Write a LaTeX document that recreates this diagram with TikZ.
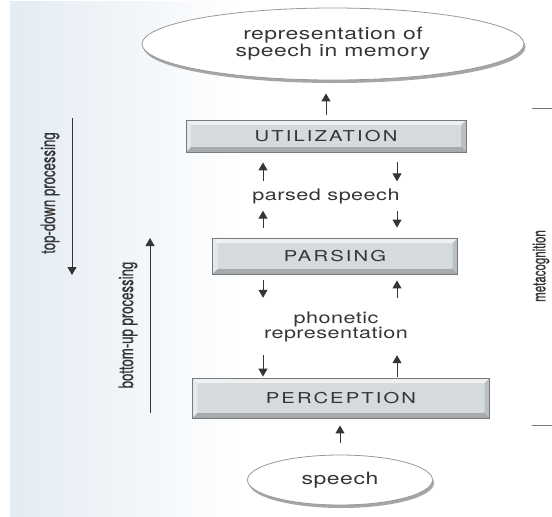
\documentclass[tikz,border=0pt]{standalone}
\usepackage{fontspec}
\setmainfont{TeX Gyre Heros}
\newfontfamily\labelfont[FakeStretch=1.35,LetterSpace=3]{TeX Gyre Heros}
\newfontfamily\stagefont[FakeStretch=1.35,LetterSpace=14]{TeX Gyre Heros}
\newfontfamily\sidefont[FakeStretch=0.66,FakeBold=0.6]{TeX Gyre Heros}
\newfontfamily\metafont[FakeStretch=0.64,FakeBold=0.6]{TeX Gyre Heros}
\usetikzlibrary{arrows.meta,shapes.geometric,shadows,fadings,positioning}

\definecolor{ink}{HTML}{353535}
\definecolor{boxfill}{HTML}{D5DADC}
\definecolor{boxline}{HTML}{767A7C}
\definecolor{scantint}{HTML}{E3EBF3}

\tikzset{
  stage/.style={draw=boxline, line width=0.9pt, fill=boxfill, inner sep=0pt,
    text=ink, font=\stagefont\fontsize{15}{15}\selectfont,
    path picture={
      \fill[white,opacity=0.6] (path picture bounding box.north west)
        -- (path picture bounding box.north east)
        -- ([shift={(-5pt,-5pt)}]path picture bounding box.north east)
        -- ([shift={(5pt,-5pt)}]path picture bounding box.north west) -- cycle;
      \fill[white,opacity=0.4] (path picture bounding box.north west)
        -- ([shift={(5pt,-5pt)}]path picture bounding box.north west)
        -- ([shift={(5pt,5pt)}]path picture bounding box.south west)
        -- (path picture bounding box.south west) -- cycle;
      \fill[black,opacity=0.22] (path picture bounding box.south west)
        -- (path picture bounding box.south east)
        -- ([shift={(-5pt,5pt)}]path picture bounding box.south east)
        -- ([shift={(5pt,5pt)}]path picture bounding box.south west) -- cycle;
      \fill[black,opacity=0.12] (path picture bounding box.north east)
        -- ([shift={(-5pt,-5pt)}]path picture bounding box.north east)
        -- ([shift={(-5pt,5pt)}]path picture bounding box.south east)
        -- (path picture bounding box.south east) -- cycle;
    }},
  oval/.style={ellipse, draw=gray!80, line width=0.8pt, fill=white, inner sep=0pt,
    text=ink, align=center, font=\labelfont\fontsize{17}{16}\selectfont,
    drop shadow={shadow xshift=1.5pt, shadow yshift=-3pt, fill=gray!70, opacity=1}},
  between/.style={inner sep=0pt, text=ink, align=center,
    font=\labelfont\fontsize{16}{14}\selectfont},
  side/.style={rotate=90, inner sep=0pt, text=ink, font=\sidefont\fontsize{20}{20}\selectfont},
  arr/.style={-{Triangle[length=8pt,width=9pt]}, draw=ink, line width=1pt},
  arrgap/.style 2 args={shorten <=#1, shorten >=#2},
}

\begin{document}
\begin{tikzpicture}[x=1pt, y=-1pt]
  \useasboundingbox (0,0) rectangle (552,517);
  \fill[scantint, path fading=east] (10,0) rectangle (240,517);

  % processing stages
  \node[oval, minimum width=382, minimum height=72] (memory) at (333,44)
    {representation of\\speech in memory};
  \node[stage, minimum width=280, minimum height=32] (util) at (326,136) {UTILIZATION};
  \node[between, minimum height=23] (parsed) at (326,196) {parsed speech};
  \node[stage, minimum width=245, minimum height=36] (parse) at (335,256) {PARSING};
  \node[between, minimum height=50] (phon) at (336,327) {phonetic\\representation};
  \node[stage, minimum width=297, minimum height=40] (perc) at (341,398) {PERCEPTION};
  \node[oval, minimum width=185, minimum height=50] (speech) at (340,480) {speech};

  \coordinate (lx) at (263,0);
  \coordinate (rx) at (397,0);

  \draw[arr, arrgap={5pt}{13pt}] (util.north) -- (util.north |- memory.south);
  \draw[arr, arrgap={3pt}{10pt}] (parsed.north -| lx) -- (util.south -| lx);
  \draw[arr, arrgap={10pt}{3pt}] (util.south -| rx) -- (parsed.north -| rx);
  \draw[arr, arrgap={10pt}{3pt}] (parse.north -| lx) -- (parsed.south -| lx);
  \draw[arr, arrgap={3pt}{10pt}] (parsed.south -| rx) -- (parse.north -| rx);
  \draw[arr, arrgap={6pt}{4pt}] (parse.south -| lx) -- (phon.north -| lx);
  \draw[arr, arrgap={4pt}{6pt}] (phon.north -| rx) -- (parse.south -| rx);
  \draw[arr, arrgap={3pt}{1pt}] (phon.south -| lx) -- (perc.north -| lx);
  \draw[arr, arrgap={1pt}{3pt}] (perc.north -| rx) -- (phon.south -| rx);
  \draw[arr, arrgap={12pt}{7pt}] (speech.north) -- (speech.north |- perc.south);

  % direction of processing
  \node[side] (topdown) at (50,193) {top-down processing};
  \coordinate (tdA) at (72,118);
  \coordinate (tdB) at (72,275);
  \draw[arr] (tdA) -- (tdB);
  \node[side] (bottomup) at (128,325) {bottom-up processing};
  \coordinate (buA) at (150,413);
  \coordinate (buB) at (150,238);
  \draw[arr] (buA) -- (buB);

  % metacognition
  \node[side, font=\metafont\fontsize{18}{18}\selectfont] (meta) at (541,266) {metacognition};
  \coordinate (mtA) at (532,108);
  \coordinate (mtB) at (552,108);
  \coordinate (mbA) at (532,425);
  \coordinate (mbB) at (552,425);
  \draw[boxline, line width=0.9pt] (mtA) -- (mtB);
  \draw[boxline, line width=0.9pt] (mbA) -- (mbB);
\end{tikzpicture}
\end{document}
